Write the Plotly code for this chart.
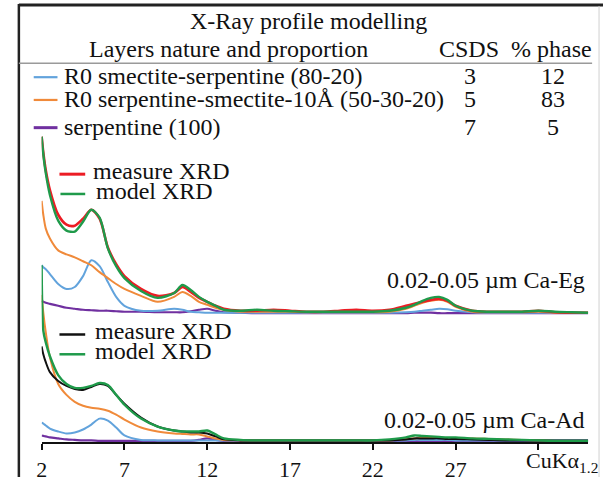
import plotly.graph_objects as go

# ---------------- data ----------------
two_theta = [2, 2.1, 2.25, 2.5, 3, 3.5, 4, 4.5, 5, 5.5, 6, 6.5, 7, 8, 9, 10, 10.5, 11, 11.5, 12,
             12.5, 13, 14, 15, 16, 17, 18, 19, 20, 21, 22, 23, 24, 24.5, 25, 25.5, 26, 26.5,
             27, 28, 29, 30, 31, 32, 33, 34, 35]

# Ca-Eg (upper pattern)
eg_measure = [179, 163, 145, 125, 100, 90, 89, 96, 105, 96, 67, 50, 38, 25, 18, 21, 27, 22, 16, 12,
              8, 5, 3, 3, 4, 3, 2, 2, 3, 4, 3, 4, 8, 10, 12, 14, 15, 13, 8, 3, 2, 2, 2, 3, 1.5, 1, 1]
eg_model = [179, 161, 142, 120, 94, 84, 83, 93, 105, 97, 66, 48, 36, 23, 16, 21, 29, 24, 17, 12,
            8, 4, 3, 4, 3, 2.5, 2, 2, 2, 2, 2, 3, 6, 9, 13, 16, 17, 14, 8, 3, 2, 2, 2, 3, 2, 1.5, 1]
eg_r0_serp_smec = [114, 100, 86, 76, 64, 60, 57, 53, 49, 42, 36, 30, 25, 18, 12, 17, 22, 18, 12, 9,
                   6, 4, 2, 2, 2, 2, 1.5, 1.5, 1.5, 1.5, 1.5, 2, 5, 8, 11, 13, 14, 12, 7, 2, 1.5,
                   1.5, 1.5, 2, 1, 1, 1]
eg_r0_smec_serp = [49, 47, 45, 40, 30, 25, 27, 38, 54, 48, 32, 17, 8, 3, 3, 5, 4, 2, 1.5, 1,
                   1, 1, 1, 1, 1, 1, 1, 1, 1, 1, 1, 1, 1.5, 2, 3, 4, 5, 4.5, 3, 1.5, 1, 1, 1, 1, 1, 1, 1]
eg_serpentine = [13, 12, 11, 10, 8, 6, 5, 4, 3.5, 3, 3, 2.5, 2, 2, 1.5, 1.5, 1.5, 2.5, 4, 5,
                 3, 1.5, 1, 0.5, 0.5, 0.5, 0.5, 0.5, 0.5, 0.5, 0.5, 0.5, 0.5, 1, 1, 1, 0.5, 0.5,
                 0.5, 0.5, 0.5, 0.5, 0.5, 0.5, 0.5, 0.5, 0.5]

# Ca-Ad (lower pattern)
ad_measure = [96, 88, 80, 70, 61, 56, 53, 52, 55, 58, 56, 47, 38, 24, 15, 11, 10, 9, 9, 8,
              5, 2, 1, 1, 1, 1, 1, 1, 1, 1, 1, 1, 2, 3, 3, 3, 3, 2.5, 2.5, 2, 1.5, 1, 1, 1, 1, 1, 1]
ad_model = [178, 112, 100, 86, 67, 58, 54, 54, 56, 59, 57, 47, 37, 23, 15, 11, 10, 10, 10, 11,
            7, 3, 1.5, 1, 1, 1, 1, 1, 1, 1, 1, 2, 4, 6, 5.5, 5, 4.5, 4, 4, 3, 2.5, 2, 1.5, 1,
            0.5, 0.5, 0.5]
ad_r0_serp_smec = [148, 130, 110, 85, 58, 47, 40, 36, 34, 33, 31, 27, 22, 14, 10, 8, 7.5, 7, 7, 5,
                   3, 1.5, 1, 1, 1, 1, 1, 1, 1, 1, 1, 1, 2.5, 3, 3.5, 3.5, 3.5, 3.5, 3, 3, 2.5,
                   2, 1.5, 1, 0.5, 0.5, 0.5]
ad_r0_smec_serp = [19, 18, 16, 13, 10, 8, 9, 12, 17, 23, 21, 14, 6, 1.5, 1, 1, 1, 1, 1, 1,
                   1, 1, 1, 1, 1, 1, 1, 1, 1, 1, 1, 1, 1, 1.5, 1.5, 1.5, 1.5, 1.5, 1, 1, 1, 1, 1,
                   1, 1, 1, 1]
ad_serpentine = [6, 5.5, 5, 4, 3, 2, 1.5, 1, 1, 0.5, 0.5, 0.5, 0.5, 0.5, 0.5, 0.5, 0.5, 0.5, 1.5, 3,
                 1.5, 0.5, 0.5, 0.5, 0.5, 0.5, 0.5, 0.5, 0.5, 0.5, 0.5, 0.5, 0.5, 0.5, 0.5, 0.5,
                 0.5, 0.5, 0.5, 0.5, 0.5, 0.5, 0.5, 0.5, 0.5, 0.5, 0.5]

tick_vals = [2, 7, 12, 17, 22, 27, 32]
tick_text = ["2", "7", "12", "17", "22", "27", " "]

table_title = "X-Ray profile modelling"
table_headers = ["Layers nature and proportion", "CSDS", "% phase"]
phase_names = ["R0 smectite-serpentine (80-20)",
               "R0 serpentine-smectite-10Å (50-30-20)",
               "serpentine (100)"]
phase_csds = ["3", "5", "7"]
phase_percent = ["12", "83", "5"]
sample_labels = ["0.02-0.05 µm Ca-Eg", "0.02-0.05 µm Ca-Ad"]

# ---------------- style ----------------
W, H = 603, 482
RED = "#ec1c24"
GREEN = "#1f9a4a"
ORANGE = "#f08a3a"
BLUE = "#62a3dc"
PURPLE = "#7030a0"
BLACK = "#111111"
FONT = "'Liberation Serif', 'Times New Roman', Times, serif"


def px(x):
    return x / W


def py(y):
    return 1 - y / H


fig = go.Figure()


def add(y, color, width, axis):
    fig.add_trace(go.Scatter(x=two_theta, y=y, mode="lines",
                             line=dict(color=color, width=width, shape="spline", smoothing=0.8),
                             yaxis=axis, showlegend=False, hoverinfo="skip"))


add(eg_serpentine, PURPLE, 2.2, "y")
add(eg_r0_smec_serp, BLUE, 2, "y")
add(eg_r0_serp_smec, ORANGE, 2, "y")
add(eg_measure, RED, 2.6, "y")
add(eg_model, GREEN, 2.4, "y")

add(ad_serpentine, PURPLE, 2.2, "y2")
add(ad_r0_smec_serp, BLUE, 2, "y2")
add(ad_r0_serp_smec, ORANGE, 2, "y2")
add(ad_measure, BLACK, 2, "y2")
add(ad_model, GREEN, 2.4, "y2")

annotations = []


def text(x, y, t, size=24, anchor="center"):
    annotations.append(dict(x=px(x), y=py(y), xref="paper", yref="paper", text=t,
                            showarrow=False, xanchor=anchor, yanchor="middle",
                            font=dict(family=FONT, size=size, color=BLACK)))


text(306, 21, table_title)
text(225, 50, table_headers[0])
text(468, 50, table_headers[1])
text(551, 50, table_headers[2])
row_y = [77, 100, 128]
for i in range(3):
    text(57, row_y[i], phase_names[i], anchor="left")
    text(469, row_y[i], phase_csds[i])
    text(553, row_y[i], phase_percent[i])

text(86, 173, "measure XRD", anchor="left")
text(89, 193, "model XRD", anchor="left")
text(88, 334, "measure XRD", anchor="left")
text(88, 355, "model XRD", anchor="left")
text(587, 283, sample_labels[0], anchor="right")
text(586, 424, sample_labels[1], anchor="right")
text(523, 467, "CuKα<sub>1.2</sub>", size=22, anchor="left")

shapes = []


def seg(x0, y0, x1, y1, color, width):
    shapes.append(dict(type="line", xref="paper", yref="paper",
                       x0=px(x0), y0=py(y0), x1=px(x1), y1=py(y1),
                       line=dict(color=color, width=width)))


# frame
seg(13, 5, 603, 5, "#222222", 3)
seg(13, 4, 13, 482, "#222222", 2.5)
seg(599, 6, 599, 482, "#d0d0d0", 1)
seg(13, 64, 592, 64, "#9a9a9a", 1.5)
# table legend keys
seg(28, 78, 52, 78, BLUE, 2.2)
seg(28, 101, 52, 101, ORANGE, 2.2)
seg(28, 129, 52, 129, PURPLE, 3)
# panel legend keys
seg(54, 176, 80, 176, RED, 3)
seg(55, 196, 80, 196, GREEN, 2.5)
seg(54, 338, 80, 338, BLACK, 2.5)
seg(54, 358, 80, 358, GREEN, 2.5)

fig.update_layout(
    width=W, height=H,
    margin=dict(l=0, r=0, t=0, b=0),
    paper_bgcolor="white", plot_bgcolor="rgba(0,0,0,0)",
    font=dict(family=FONT, color=BLACK),
    xaxis=dict(domain=[px(36), px(588)], range=[2, 35], showgrid=False, zeroline=False,
               showline=True, linecolor=BLACK, linewidth=2,
               ticks="outside", ticklen=6, tickwidth=2, tickcolor=BLACK,
               tickvals=tick_vals, ticktext=tick_text, fixedrange=True,
               tickfont=dict(family=FONT, size=22, color=BLACK)),
    yaxis=dict(domain=[py(447), py(130)], range=[-130, 187], visible=False, fixedrange=True),
    yaxis2=dict(domain=[py(447), py(130)], range=[-1, 316], visible=False,
                overlaying="y", fixedrange=True),
    annotations=annotations,
    shapes=shapes,
)

fig.write_html("out.html",
               config={"displayModeBar": False, "staticPlot": True},
               post_script="document.body.style.margin='0px';"
                           "document.body.style.overflow='hidden';")
